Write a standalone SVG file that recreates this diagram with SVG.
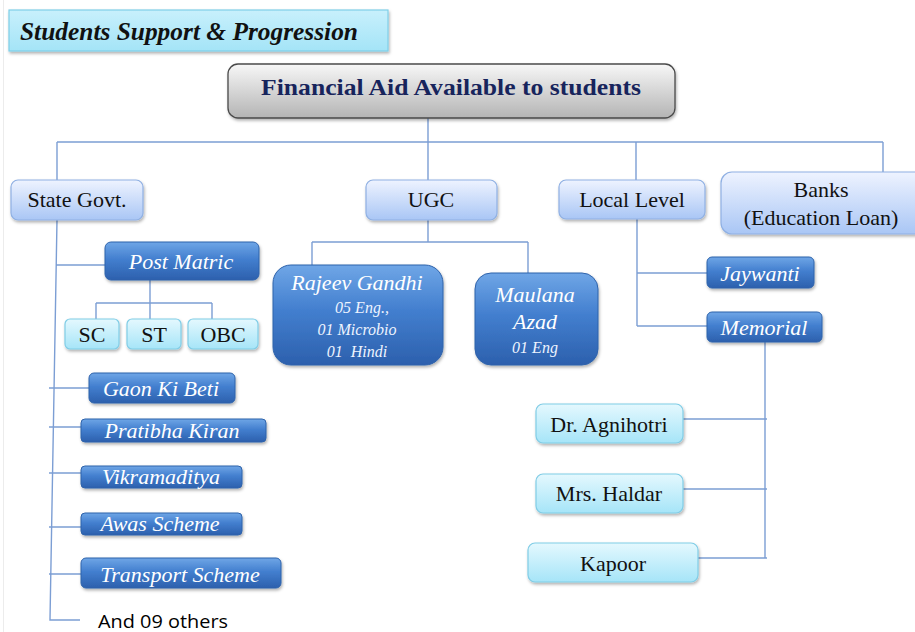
<svg xmlns="http://www.w3.org/2000/svg" width="915" height="632" viewBox="0 0 915 632">
<defs>
<linearGradient id="gLight" x1="0" y1="0" x2="0" y2="1">
<stop offset="0" stop-color="#eef3ff"/><stop offset="1" stop-color="#a9c6f5"/>
</linearGradient>
<linearGradient id="gCyan" x1="0" y1="0" x2="0" y2="1">
<stop offset="0" stop-color="#e4f8fe"/><stop offset="1" stop-color="#a6e5f8"/>
</linearGradient>
<linearGradient id="gTitle" x1="0" y1="0" x2="0" y2="1">
<stop offset="0" stop-color="#c8f0fc"/><stop offset="1" stop-color="#a4e4f7"/>
</linearGradient>
<linearGradient id="gGray" x1="0" y1="0" x2="0" y2="1">
<stop offset="0" stop-color="#f7f7f7"/><stop offset="1" stop-color="#b4b4b4"/>
</linearGradient>
<linearGradient id="gDark" x1="0" y1="0" x2="0" y2="1">
<stop offset="0" stop-color="#6fa6e6"/><stop offset="0.45" stop-color="#437fcf"/><stop offset="1" stop-color="#2c60ad"/>
</linearGradient>
<filter id="sh" x="-10%" y="-20%" width="120%" height="150%">
<feDropShadow dx="1" dy="2" stdDeviation="1.5" flood-color="#000" flood-opacity="0.3"/>
</filter>
</defs>
<style>
.light{fill:url(#gLight);stroke:#8fb0e3;stroke-width:1.2;filter:url(#sh)}
.cyan{fill:url(#gCyan);stroke:#80cde6;stroke-width:1.2;filter:url(#sh)}
.dark{fill:url(#gDark);stroke:#2f63ab;stroke-width:1;filter:url(#sh)}
.serif{font-family:'Liberation Serif','DejaVu Serif','Noto Serif',serif}
.t{font-size:22px;fill:#111;text-anchor:middle}
.w{font-style:italic;font-size:22px;fill:#fff;text-anchor:middle}
.ws{font-style:italic;font-size:16px;fill:#eef4ff;text-anchor:middle}
.conn{fill:none;stroke:#7c9ed4;stroke-width:1.4}
</style>
<rect width="915" height="632" fill="#fff"/>
<line x1="3.5" y1="0" x2="3.5" y2="632" stroke="#ececec" stroke-width="1"/>

<g id="title">
<rect x="9" y="10" width="379" height="41" fill="url(#gTitle)" stroke="#7fcfe8" stroke-width="1.2" filter="url(#sh)"/>
<text class="serif" x="20" y="40" font-weight="bold" font-style="italic" font-size="25" fill="#111" textLength="338" lengthAdjust="spacingAndGlyphs">Students Support &amp; Progression</text>
</g>

<g id="connectors" class="conn">
<path d="M428,118 V142 M57,142 H883 M57,142 V180 M428,142 V180 M636,142 V180 M883,142 V172"/>
<path d="M57,220 L50,620 H80 M56,265 H105 M49,388 H89 M49,427 H81 M49,473 H81 M49,527 H81 M49,574 H81"/>
<path d="M150,280 V303 M96,303 H212 M96,303 V319 M150,303 V319 M212,303 V319"/>
<path d="M428,220 V242 M312,242 H528 M312,242 V265 M528,242 V273"/>
<path d="M637,219 V326 M637,273 H707 M637,326 H707"/>
<path d="M765,342 V558 M683,419 H767 M683,489 H767 M698,558 H767"/>
</g>

<g id="root">
<rect x="228" y="64" width="447" height="54" rx="10" fill="url(#gGray)" stroke="#4a4a4a" stroke-width="1.3" filter="url(#sh)"/>
<text class="serif" x="451" y="95" font-weight="bold" font-size="24" fill="#17245c" text-anchor="middle" textLength="380" lengthAdjust="spacingAndGlyphs">Financial Aid Available to students</text>
</g>

<g id="state-govt"><rect class="light" x="11" y="180" width="132" height="40" rx="7"/><text class="serif t" x="77" y="207">State Govt.</text></g>
<g id="ugc"><rect class="light" x="366" y="180" width="131" height="40" rx="7"/><text class="serif t" x="431" y="207">UGC</text></g>
<g id="local-level"><rect class="light" x="559" y="180" width="146" height="39" rx="7"/><text class="serif t" x="632" y="207">Local Level</text></g>
<g id="banks"><rect class="light" x="721" y="172" width="210" height="62" rx="11"/><text class="serif t" x="821" y="197">Banks</text><text class="serif t" x="821" y="225">(Education Loan)</text></g>

<g id="post-matric"><rect class="dark" x="105" y="242" width="154" height="38" rx="6"/><text class="serif w" x="181" y="269">Post Matric</text></g>
<g id="sc"><rect class="cyan" x="65" y="319" width="54" height="30" rx="5"/><text class="serif t" x="92" y="342">SC</text></g>
<g id="st"><rect class="cyan" x="127" y="319" width="54" height="30" rx="5"/><text class="serif t" x="154" y="342">ST</text></g>
<g id="obc"><rect class="cyan" x="188" y="319" width="70" height="30" rx="5"/><text class="serif t" x="223" y="342">OBC</text></g>
<g id="gaon-ki-beti"><rect class="dark" x="89" y="373" width="146" height="30" rx="5"/><text class="serif w" x="161" y="396">Gaon Ki Beti</text></g>
<g id="pratibha-kiran"><rect class="dark" x="81" y="419" width="185" height="23" rx="4"/><text class="serif w" x="172" y="438">Pratibha Kiran</text></g>
<g id="vikramaditya"><rect class="dark" x="81" y="466" width="161" height="22" rx="4"/><text class="serif w" x="161" y="484">Vikramaditya</text></g>
<g id="awas-scheme"><rect class="dark" x="81" y="513" width="161" height="22" rx="4"/><text class="serif w" x="160" y="531">Awas Scheme</text></g>
<g id="transport-scheme"><rect class="dark" x="81" y="558" width="200" height="30" rx="5"/><text class="serif w" x="180" y="582">Transport Scheme</text></g>
<g id="others"><text x="98" y="628" font-family="'Open Sans','Liberation Sans',sans-serif" font-size="18" fill="#000" textLength="130" lengthAdjust="spacingAndGlyphs">And 09 others</text></g>

<g id="rajeev-gandhi"><rect class="dark" x="273" y="265" width="170" height="100" rx="18"/>
<text class="serif w" x="357" y="290">Rajeev Gandhi</text>
<text class="serif ws" x="362" y="313">05 Eng.,</text>
<text class="serif ws" x="357" y="335">01 Microbio</text>
<text class="serif ws" x="357" y="357" xml:space="preserve">01  Hindi</text></g>
<g id="maulana-azad"><rect class="dark" x="475" y="273" width="123" height="92" rx="16"/>
<text class="serif w" x="535" y="302">Maulana</text>
<text class="serif w" x="535" y="329">Azad</text>
<text class="serif ws" x="535" y="353">01 Eng</text></g>

<g id="jaywanti"><rect class="dark" x="707" y="257" width="107" height="31" rx="5"/><text class="serif w" x="760" y="281">Jaywanti</text></g>
<g id="memorial"><rect class="dark" x="707" y="312" width="115" height="30" rx="5"/><text class="serif w" x="764" y="335">Memorial</text></g>

<g id="dr-agnihotri"><rect class="cyan" x="536" y="404" width="147" height="39" rx="7"/><text class="serif t" x="609" y="432">Dr. Agnihotri</text></g>
<g id="mrs-haldar"><rect class="cyan" x="536" y="474" width="147" height="39" rx="7"/><text class="serif t" x="609" y="501">Mrs. Haldar</text></g>
<g id="kapoor"><rect class="cyan" x="528" y="543" width="170" height="39" rx="7"/><text class="serif t" x="613" y="571">Kapoor</text></g>
</svg>
